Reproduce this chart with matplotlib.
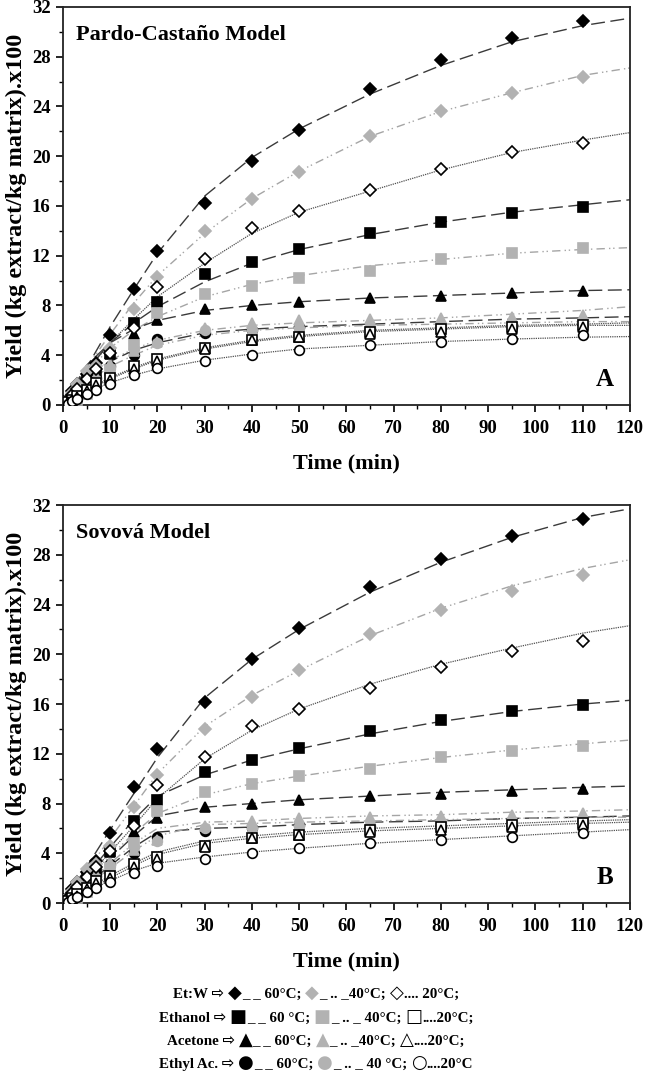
import numpy as np
import matplotlib
matplotlib.use('Agg')
import matplotlib.pyplot as plt
from matplotlib.ticker import MultipleLocator
from matplotlib.offsetbox import TextArea, HPacker, AnnotationBbox

plt.rcParams['font.family'] = ['Liberation Serif', 'DejaVu Sans']
plt.rcParams['font.weight'] = 'bold'

# experimental points (same in both panels)
t_obs = [1, 2, 3, 5, 7, 10, 15, 20, 30, 40, 50, 65, 80, 95, 110]
etw_60 = [0.5, 1.1, 1.7, 2.5, 3.4, 5.6, 9.3, 12.4, 16.2, 19.6, 22.1, 25.4, 27.7, 29.5, 30.9]
etw_40 = [0.5, 1.0, 1.7, 2.7, 3.1, 4.6, 7.7, 10.3, 14.0, 16.6, 18.7, 21.6, 23.6, 25.1, 26.4]
etw_20 = [0.4, 0.8, 1.3, 2.1, 2.9, 4.2, 6.2, 9.5, 11.7, 14.2, 15.6, 17.3, 19.0, 20.3, 21.1]
eth_60 = [0.3, 0.6, 1.1, 2.0, 2.7, 4.2, 6.6, 8.3, 10.5, 11.5, 12.5, 13.8, 14.7, 15.4, 15.9]
eth_40 = [0.1, 0.2, 0.4, 0.9, 1.7, 2.8, 4.8, 7.4, 8.9, 9.6, 10.2, 10.8, 11.7, 12.2, 12.6]
eth_20 = [0.2, 0.4, 0.7, 1.2, 1.8, 2.2, 3.1, 3.7, 4.6, 5.2, 5.5, 5.9, 6.1, 6.3, 6.4]
ace_60 = [0.3, 0.6, 1.0, 1.8, 2.6, 4.1, 5.7, 6.8, 7.7, 8.0, 8.3, 8.6, 8.8, 9.0, 9.2]
ace_40 = [0.3, 0.6, 0.9, 1.6, 2.3, 3.3, 4.3, 5.1, 6.2, 6.6, 6.8, 6.9, 7.0, 7.1, 7.2]
ace_20 = [0.2, 0.4, 0.6, 1.1, 1.6, 2.0, 2.9, 3.5, 4.5, 5.2, 5.5, 5.7, 5.9, 6.1, 6.3]
ea_60 = [0.3, 0.5, 0.9, 1.5, 2.2, 3.1, 4.0, 5.3, 5.8, 6.0, 6.3, 6.1, 6.2, 6.3, 6.5]
ea_40 = [0.3, 0.5, 0.8, 1.4, 2.0, 3.0, 4.5, 5.0, 6.0, 6.0, 6.2, 6.3, 6.4, 6.5, 6.6]
ea_20 = [0.1, 0.3, 0.5, 0.9, 1.2, 1.7, 2.4, 3.0, 3.5, 4.0, 4.4, 4.8, 5.1, 5.3, 5.6]

# model curves
t_fit = [0, 5, 10, 15, 20, 30, 40, 50, 65, 80, 95, 110, 120]
# panel A: Pardo-Castano
pc_etw_60 = [0, 3.0, 6.3, 9.3, 12.2, 16.8, 19.9, 22.2, 25.0, 27.3, 29.2, 30.5, 31.1]
pc_etw_40 = [0, 3.0, 5.7, 8.2, 10.4, 13.8, 16.6, 18.8, 21.6, 23.6, 25.1, 26.5, 27.1]
pc_etw_20 = [0, 2.7, 5.0, 6.9, 8.7, 11.4, 13.8, 15.5, 17.2, 18.9, 20.3, 21.3, 21.9]
pc_eth_60 = [0, 2.8, 5.0, 6.6, 7.9, 9.9, 11.4, 12.5, 13.7, 14.7, 15.5, 16.1, 16.5]
pc_eth_40 = [0, 2.6, 4.6, 6.0, 7.1, 8.7, 9.7, 10.4, 11.2, 11.7, 12.2, 12.5, 12.65]
pc_eth_20 = [0, 1.2, 2.2, 3.0, 3.7, 4.6, 5.2, 5.6, 6.0, 6.2, 6.4, 6.5, 6.6]
pc_ace_60 = [0, 3.2, 5.0, 6.1, 6.8, 7.6, 8.0, 8.3, 8.6, 8.8, 9.0, 9.2, 9.26]
pc_ace_40 = [0, 2.1, 3.6, 4.5, 5.2, 6.0, 6.4, 6.6, 6.8, 7.0, 7.3, 7.6, 7.9]
pc_ace_20 = [0, 1.1, 2.1, 2.9, 3.6, 4.5, 5.1, 5.5, 5.9, 6.1, 6.3, 6.4, 6.4]
pc_ea_60 = [0, 2.0, 3.5, 4.4, 5.0, 5.8, 6.1, 6.3, 6.5, 6.7, 6.9, 7.0, 7.1]
pc_ea_40 = [0, 1.8, 3.1, 4.0, 4.8, 5.6, 6.0, 6.2, 6.4, 6.5, 6.6, 6.7, 6.7]
pc_ea_20 = [0, 1.0, 1.8, 2.4, 2.9, 3.6, 4.1, 4.5, 4.8, 5.1, 5.3, 5.45, 5.5]
# panel B: Sovova
sv_etw_60 = [0, 2.9, 5.9, 8.8, 11.7, 16.5, 19.6, 22.0, 25.0, 27.4, 29.4, 31.0, 31.7]
sv_etw_40 = [0, 2.6, 5.2, 7.8, 10.4, 14.2, 16.7, 18.7, 21.5, 23.7, 25.5, 26.9, 27.6]
sv_etw_20 = [0, 2.0, 4.1, 6.2, 8.4, 11.6, 13.9, 15.6, 17.6, 19.2, 20.5, 21.7, 22.3]
sv_eth_60 = [0, 2.2, 4.5, 6.7, 8.6, 10.3, 11.5, 12.4, 13.6, 14.6, 15.4, 16.0, 16.3]
sv_eth_40 = [0, 1.9, 3.8, 5.6, 7.2, 8.7, 9.6, 10.2, 11.0, 11.7, 12.3, 12.8, 13.1]
sv_eth_20 = [0, 1.1, 2.2, 3.2, 4.1, 5.0, 5.4, 5.7, 6.0, 6.2, 6.4, 6.6, 6.7]
sv_ace_60 = [0, 1.8, 3.6, 5.4, 7.0, 7.7, 8.0, 8.3, 8.6, 8.9, 9.1, 9.3, 9.4]
sv_ace_40 = [0, 1.6, 3.2, 4.8, 6.0, 6.5, 6.6, 6.8, 7.0, 7.1, 7.3, 7.4, 7.5]
sv_ace_20 = [0, 1.0, 2.0, 3.0, 3.9, 4.8, 5.2, 5.5, 5.8, 6.0, 6.2, 6.4, 6.5]
sv_ea_60 = [0, 1.5, 3.0, 4.5, 5.7, 6.0, 6.1, 6.3, 6.5, 6.6, 6.8, 6.9, 7.0]
sv_ea_40 = [0, 1.4, 2.8, 4.2, 5.4, 6.3, 6.4, 6.5, 6.6, 6.7, 6.8, 6.9, 6.9]
sv_ea_20 = [0, 0.9, 1.8, 2.6, 3.2, 3.7, 4.1, 4.4, 4.8, 5.1, 5.4, 5.7, 5.9]

obs = {'etw': [etw_60, etw_40, etw_20], 'eth': [eth_60, eth_40, eth_20],
       'ace': [ace_60, ace_40, ace_20], 'ea': [ea_60, ea_40, ea_20]}
fits_a = {'etw': [pc_etw_60, pc_etw_40, pc_etw_20], 'eth': [pc_eth_60, pc_eth_40, pc_eth_20],
          'ace': [pc_ace_60, pc_ace_40, pc_ace_20], 'ea': [pc_ea_60, pc_ea_40, pc_ea_20]}
fits_b = {'etw': [sv_etw_60, sv_etw_40, sv_etw_20], 'eth': [sv_eth_60, sv_eth_40, sv_eth_20],
          'ace': [sv_ace_60, sv_ace_40, sv_ace_20], 'ea': [sv_ea_60, sv_ea_40, sv_ea_20]}

GRAY = '#b2b2b2'
markers = {'etw': ('D', 6.0), 'eth': ('s', 7.0), 'ace': ('^', 7.5), 'ea': ('o', 7.0)}
# 60, 40, 20 C
face = ['black', GRAY, 'white']
edge = ['black', GRAY, 'black']
line_col = ['#3a3a3a', '#a5a5a5', '#505050']
dashes = [(10, 4), (6, 3, 1, 2, 1, 3), (1, 0.8)]
line_w = [1.0, 1.0, 0.9]


def draw_panel(ax, fits, title, letter):
    for key in ['etw', 'eth', 'ace', 'ea']:
        for i in range(3):
            ax.plot(t_fit, fits[key][i], color=line_col[i], lw=line_w[i],
                    dashes=dashes[i], zorder=2)
    for i in range(3):
        for key in ['etw', 'eth', 'ace', 'ea']:
            m, ms = markers[key]
            ax.plot(t_obs, obs[key][i], ls='none', marker=m, ms=ms,
                    mfc=face[i], mec=edge[i], mew=1.2, zorder=3 + i)
    ax.set_xlim(0, 120)
    ax.set_ylim(0, 32)
    ax.xaxis.set_major_locator(MultipleLocator(10))
    ax.xaxis.set_minor_locator(MultipleLocator(5))
    ax.yaxis.set_major_locator(MultipleLocator(4))
    ax.yaxis.set_minor_locator(MultipleLocator(2))
    ax.tick_params(which='major', length=5, width=1.2, labelsize=13.5, pad=4)
    ax.tick_params(which='minor', length=3, width=1.0)
    ax.tick_params(axis='x', pad=6)
    for lbl in ax.get_xticklabels() + ax.get_yticklabels():
        lbl.set_fontweight('bold')
    for s in ax.spines.values():
        s.set_linewidth(1.3)
        s.set_color('#222222')
    ax.set_xlabel('Time (min)', fontsize=16, fontweight='bold', labelpad=12)
    ax.set_ylabel('Yield (kg extract/kg matrix).x100', fontsize=17.5,
                  fontweight='bold')
    ax.yaxis.set_label_coords(-0.064, 0.5)
    ax.text(0.023, 0.93, title, transform=ax.transAxes, fontsize=16,
            fontweight='bold', va='center', ha='left')
    ax.text(0.956, 0.065, letter, transform=ax.transAxes, fontsize=18,
            fontweight='bold', va='center', ha='center')


fig = plt.figure(figsize=(6.46, 10.75), dpi=100)
ax_a = fig.add_axes([0.0975, 0.6233, 0.8777, 0.3702])
ax_b = fig.add_axes([0.0975, 0.1600, 0.8777, 0.3702])
draw_panel(ax_a, fits_a, 'Pardo-Castaño Model', 'A')
draw_panel(ax_b, fits_b, 'Sovová Model', 'B')

# legend rows
leg_names = ['Et:W', 'Ethanol', 'Acetone', 'Ethyl Ac.']
leg_full = ['\u25C6', '\u25A0', '\u25B2', '\u25CF']
leg_open = ['\u25C7', '\u25A1', '\u25B3', '\u25CB']
leg_60 = ['_ _ 60°C; ', '_ _ 60 °C; ', '_ _ 60°C; ', '_ _ 60°C; ']
leg_40 = ['_ .. _40°C; ', '_ .. _ 40°C; ', '_ .. _40°C; ', '_ .. _ 40 °C; ']
leg_20 = ['.... 20°C;', '....20°C;', '....20°C;', '....20°C']

txt = dict(fontsize=10.8, fontweight='bold', family=['Liberation Serif', 'DejaVu Sans'])
sym = dict(fontsize=13, family=['DejaVu Sans'])
row_y = [993, 1017, 1040, 1063]
for r in range(4):
    parts = [
        TextArea(leg_names[r] + ' \u21E8 ', textprops=dict(color='black', **txt)),
        TextArea(leg_full[r], textprops=dict(color='black', **sym)),
        TextArea(leg_60[r], textprops=dict(color='black', **txt)),
        TextArea(leg_full[r], textprops=dict(color=GRAY, **sym)),
        TextArea(leg_40[r], textprops=dict(color='black', **txt)),
        TextArea(leg_open[r], textprops=dict(color='black', **sym)),
        TextArea(leg_20[r], textprops=dict(color='black', **txt)),
    ]
    row = HPacker(children=parts, sep=0, pad=0, align='baseline')
    ab = AnnotationBbox(row, (316 / 646, 1 - row_y[r] / 1075), xycoords='figure fraction',
                        box_alignment=(0.5, 0.5), frameon=False)
    fig.add_artist(ab)

fig.savefig('out.png', dpi=100)
